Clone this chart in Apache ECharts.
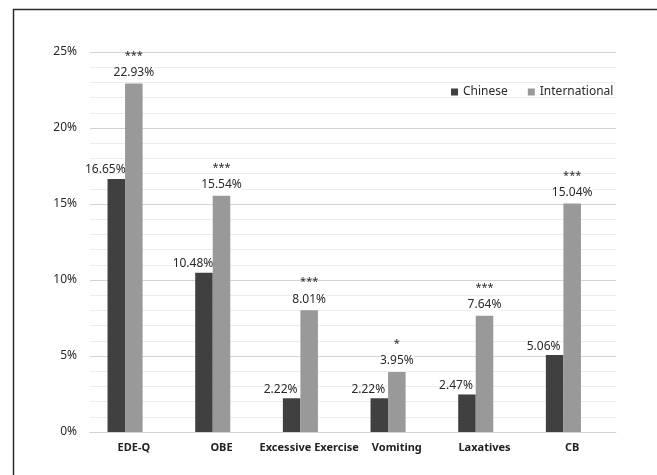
<!DOCTYPE html>
<html><head><meta charset="utf-8">
<script src="https://cdn.jsdelivr.net/npm/echarts@6/dist/echarts.min.js"></script>
<style>html,body{margin:0;padding:0;background:#fff}#c{width:657px;height:475px}</style>
</head><body><div id="c"></div>
<script>
const categories = ['EDE-Q', 'OBE', 'Excessive Exercise', 'Vomiting', 'Laxatives', 'CB'];
const chinese = [16.65, 10.48, 2.22, 2.22, 2.47, 5.06];
const international = [22.93, 15.54, 8.01, 3.95, 7.64, 15.04];
const significance = ['***', '***', '***', '*', '***', '***'];
const yTicks = [0, 5, 10, 15, 20, 25];

const FONT = '"Noto Sans", sans-serif';
const chart = echarts.init(document.getElementById('c'));
chart.setOption({
  animation: false,
  textStyle: { fontFamily: FONT },
  graphic: [{ type: 'rect', shape: { x: 13.5, y: 9.5, width: 700, height: 520 },
    style: { fill: 'none', stroke: '#2b2b2b', lineWidth: 1.5 }, silent: true }],
  legend: {
    data: ['Chinese', 'International'], left: 446, top: 81,
    itemWidth: 7, itemHeight: 7, itemGap: 20, icon: 'rect',
    textStyle: { fontSize: 12, color: '#2a2a2a', fontFamily: FONT }
  },
  grid: { left: 90, right: 41, top: 52, bottom: 43, containLabel: false },
  xAxis: {
    type: 'category', data: categories,
    axisLine: { lineStyle: { color: '#d4d4d4', width: 1 } },
    axisTick: { show: false },
    axisLabel: { fontWeight: 'bold', fontSize: 11, color: '#222', margin: 10, interval: 0, fontFamily: FONT }
  },
  yAxis: {
    type: 'value', min: yTicks[0], max: yTicks[yTicks.length - 1], interval: 5,
    axisLine: { show: false }, axisTick: { show: false },
    axisLabel: { formatter: v => v + '%', fontSize: 12, color: '#2a2a2a', margin: 13, fontFamily: FONT },
    splitLine: { lineStyle: { color: '#d3d3d3', width: 1 } },
    minorTick: { show: false, splitNumber: 5 },
    minorSplitLine: { show: true, lineStyle: { color: '#ececec', width: 1 } }
  },
  series: [
    { name: 'Chinese', type: 'bar', data: chinese, barGap: '0%', barCategoryGap: '40%',
      itemStyle: { color: '#404040' },
      label: { show: true, position: 'top', distance: 3, offset: [-11, 0],
        formatter: p => p.value.toFixed(2) + '%', fontSize: 12, color: '#2a2a2a', fontFamily: FONT } },
    { name: 'International', type: 'bar', data: international,
      itemStyle: { color: '#999999' },
      label: { show: true, position: 'top', distance: 3,
        formatter: p => '{s|' + significance[p.dataIndex] + '}\n{v|' + p.value.toFixed(2) + '%}',
        rich: {
          s: { fontSize: 11, color: '#2a2a2a', lineHeight: 18, fontFamily: FONT },
          v: { fontSize: 12, color: '#2a2a2a', lineHeight: 16, fontFamily: FONT, backgroundColor: '#fff' }
        } } },
    { name: 'spacer', type: 'bar', data: [], silent: true }
  ]
});
</script></body></html>
